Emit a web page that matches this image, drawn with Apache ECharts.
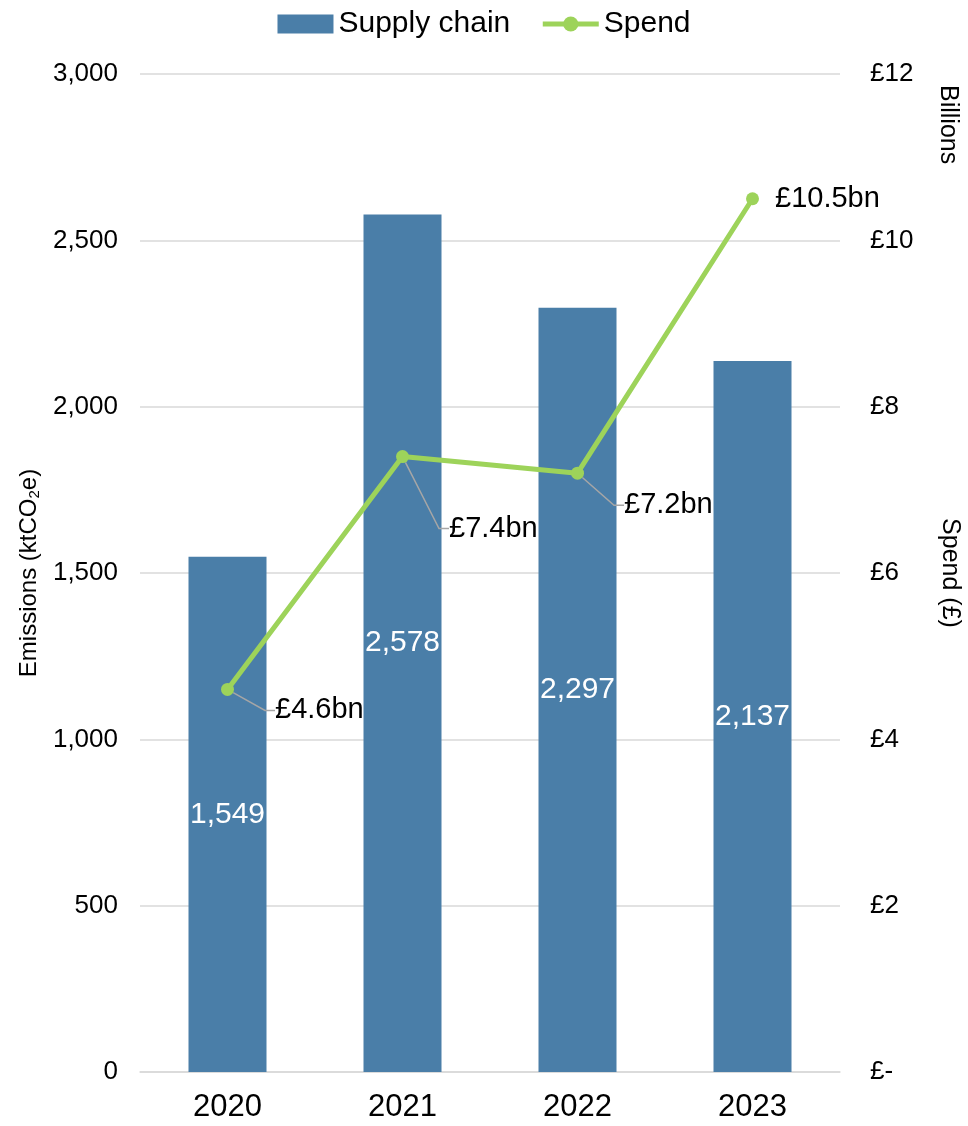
<!DOCTYPE html>
<html>
<head>
<meta charset="utf-8">
<script src="https://cdn.jsdelivr.net/npm/echarts@6/dist/echarts.min.js"></script>
<style>
  html, body { margin: 0; padding: 0; background: #fff; }
  #chart { width: 968px; height: 1126px; }
</style>
</head>
<body>
<div id="chart"></div>
<script type="application/javascript">
const years = ['2020', '2021', '2022', '2023'];
const supplyChain = [1549, 2578, 2297, 2137];
const spend = [4.6, 7.4, 7.2, 10.5];
// label nudges for the spend labels (x, y)
const spendLabelShift = [[29, 21], [28, 72], [28, 32], [4, 0]];

const chart = echarts.init(document.getElementById('chart'));
const font = 'Liberation Sans, Arial, sans-serif';

const option = {
  textStyle: { fontFamily: font },
  legend: {
    top: 4,
    left: 'center',
    itemGap: 30,
    itemWidth: 56,
    itemHeight: 19,
    textStyle: { fontSize: 30, color: '#000', fontFamily: font },
    data: [
      { name: 'Supply chain', icon: 'rect' },
      { name: 'Spend', lineStyle: { width: 5 } }
    ]
  },
  grid: { left: 140, right: 128, top: 74, bottom: 54, outerBoundsMode: 'none', containLabel: false },
  xAxis: {
    type: 'category',
    data: years,
    axisLine: { show: true, lineStyle: { color: '#d9d9d9', width: 1.5 } },
    axisTick: { show: false },
    axisLabel: { fontSize: 31, color: '#000', margin: 20 }
  },
  yAxis: [
    {
      type: 'value',
      min: 0, max: 3000, interval: 500,
      name: 'Emissions (ktCO{sub|2}e)',
      nameLocation: 'middle',
      nameGap: 97,
      nameRotate: 90,
      nameTextStyle: {
        fontSize: 24, color: '#000',
        rich: { sub: { fontSize: 15, color: '#000', padding: [0, 0, -10, 0] } }
      },
      axisLabel: {
        fontSize: 26, color: '#000', margin: 22,
        formatter: v => v.toLocaleString('en-GB')
      },
      splitLine: { lineStyle: { color: '#d9d9d9', width: 1.5 } },
      axisLine: { show: false },
      axisTick: { show: false }
    },
    {
      type: 'value',
      min: 0, max: 12, interval: 2,
      name: 'Spend (£)',
      nameLocation: 'middle',
      nameGap: 97,
      nameRotate: -90,
      nameTextStyle: { fontSize: 25, color: '#000' },
      axisLabel: {
        fontSize: 26, color: '#000', margin: 30,
        formatter: v => v === 0 ? '£-' : '£' + v
      },
      splitLine: { show: false },
      axisLine: { show: false },
      axisTick: { show: false }
    }
  ],
  graphic: [
    {
      type: 'text',
      left: 935, top: 85,
      rotation: -Math.PI / 2,
      style: { text: 'Billions', fontSize: 25, fill: '#000', fontFamily: font }
    }
  ],
  series: [
    {
      name: 'Supply chain',
      type: 'bar',
      yAxisIndex: 0,
      data: supplyChain,
      barWidth: 78,
      itemStyle: { color: '#4a7ea8' },
      label: {
        show: true,
        position: 'inside',
        color: '#fff',
        fontSize: 30,
        formatter: p => p.value.toLocaleString('en-GB')
      }
    },
    {
      name: 'Spend',
      type: 'line',
      yAxisIndex: 1,
      data: spend.map((v, i) => i === spend.length - 1 ? { value: v, labelLine: { show: false } } : v),
      symbol: 'circle',
      symbolSize: 13,
      lineStyle: { color: '#9dd35a', width: 5 },
      itemStyle: { color: '#9dd35a' },
      label: {
        show: true,
        position: 'right',
        color: '#000',
        fontSize: 29,
        padding: [0, 0, 0, 7],
        formatter: p => '£' + p.value + 'bn'
      },
      labelLayout: p => ({ dx: spendLabelShift[p.dataIndex][0], dy: spendLabelShift[p.dataIndex][1] }),
      labelLine: { show: true, length2: 10, lineStyle: { color: '#a6a6a6', width: 1.5 } },
      z: 3
    }
  ]
};

chart.setOption(option);
</script>
</body>
</html>
